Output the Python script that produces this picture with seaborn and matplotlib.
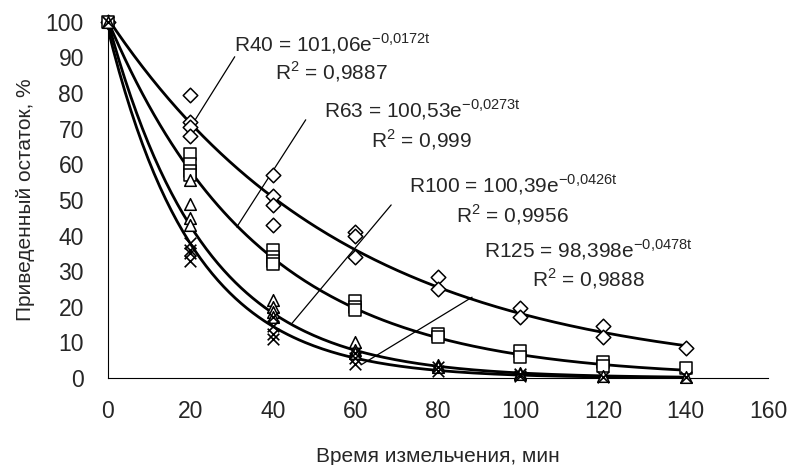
import numpy as np
import pandas as pd
import seaborn as sns
import matplotlib.pyplot as plt

# measured points (t, residue %) for each grinding series
t_r40 = [0, 20, 20, 20, 20, 40, 40, 40, 40, 60, 60, 60, 80, 80, 100, 100, 120, 120, 140]
y_r40 = [100, 79.5, 72, 70.5, 68, 57, 51, 48.5, 43, 41, 40, 34, 28.5, 25, 19.8, 17, 14.5, 11.5, 8.3]

t_r63 = [0, 20, 20, 20, 20, 40, 40, 40, 40, 60, 60, 60, 80, 80, 100, 100, 120, 120, 140]
y_r63 = [100, 63, 60, 58, 57, 36, 34, 33, 32, 21.5, 20, 19, 12.5, 11.5, 7.5, 6, 4.5, 3.5, 2.8]

t_r100 = [0, 20, 20, 20, 20, 40, 40, 40, 40, 60, 60, 60, 80, 80, 100, 100, 120, 140]
y_r100 = [100, 55.5, 49, 45, 43, 22, 20, 18.5, 17, 10, 8, 7, 3.8, 3, 1.5, 1, 0.5, 0.3]

t_r125 = [0, 20, 20, 20, 20, 40, 40, 40, 40, 60, 60, 60, 80, 80, 100, 100, 120, 140]
y_r125 = [100, 38, 36, 35, 33, 17, 14.5, 12.5, 11, 7, 5.5, 4, 3, 2, 1, 0.5, 0.3, 0.2]

series = ["R40", "R63", "R100", "R125"]
coef_a = [101.06, 100.53, 100.39, 98.398]
coef_b = [0.0172, 0.0273, 0.0426, 0.0478]
r2 = ["0,9887", "0,999", "0,9956", "0,9888"]
a_txt = ["101,06", "100,53", "100,39", "98,398"]
b_txt = ["0{,}0172", "0{,}0273", "0{,}0426", "0{,}0478"]

pts = pd.concat([
    pd.DataFrame({"t": t, "y": y, "s": s})
    for t, y, s in [(t_r40, y_r40, "R40"), (t_r63, y_r63, "R63"),
                    (t_r100, y_r100, "R100"), (t_r125, y_r125, "R125")]
])

tt = np.linspace(0, 140, 200)
fit = pd.concat([
    pd.DataFrame({"t": tt, "y": a * np.exp(-b * tt), "s": s})
    for s, a, b in zip(series, coef_a, coef_b)
])

sns.set_theme(style="white")
plt.rcParams['font.family'] = ['Liberation Sans', 'DejaVu Sans']
plt.rcParams['mathtext.fontset'] = 'custom'
plt.rcParams['mathtext.rm'] = 'Liberation Sans'

fig = plt.figure(figsize=(7.91, 4.65), dpi=100)
ax = fig.add_axes([0.136, 0.187, 0.835, 0.766])

sns.lineplot(data=fit, x="t", y="y", units="s", estimator=None, color="black",
             lw=2, ax=ax, legend=False)

markers = {"R40": "D", "R63": "s", "R100": "^", "R125": "X"}
for s, m in markers.items():
    d = pts[pts.s == s]
    if m == "X":
        ax.scatter(d.t, d.y, marker="x", s=70, color="black", lw=1.2, zorder=3, clip_on=False)
    else:
        ax.scatter(d.t, d.y, marker=m, s=70 if m != "D" else 55, facecolor="white",
                   edgecolor="black", lw=1.1, zorder=3, clip_on=False)

# equation labels with leader lines
text_pos = [(30.6, 94), (52.4, 75.3), (73.1, 54.2), (91.3, 36)]
r2_pos = [(40.5, 86), (63.8, 66.9), (84.5, 45.8), (102.7, 28)]
leaders = [((30.8, 90.2), (20.9, 71.9)), ((48, 72.5), (31.3, 42.4)),
           ((68.7, 48.6), (44.7, 15.4)), ((88.3, 22.7), (61.4, 3.7))]
for i, s in enumerate(series):
    ax.text(*text_pos[i], f"{s} = {a_txt[i]}e$^{{\\mathregular{{-{b_txt[i]}t}}}}$",
            fontsize=15, va="center", ha="left")
    ax.text(*r2_pos[i], f"R$^{{\\mathregular{{2}}}}$ = {r2[i]}", fontsize=15, va="center", ha="left")
    (x0, y0), (x1, y1) = leaders[i]
    ax.plot([x0, x1], [y0, y1], color="black", lw=0.9)

ax.set_xlim(0, 160)
ax.set_ylim(0, 100)
ax.set_xticks(range(0, 161, 20))
ax.set_yticks(range(0, 101, 10))
ax.tick_params(axis="both", labelsize=16.5, length=6, width=0.8, color="black", direction="out")
ax.tick_params(axis="y", pad=11)
ax.tick_params(axis="x", direction="inout", length=10, pad=11)
for side in ["top", "right"]:
    ax.spines[side].set_visible(False)
for side in ["left", "bottom"]:
    ax.spines[side].set_color("black")
    ax.spines[side].set_linewidth(0.8)
ax.set_xlabel("Время измельчения, мин", fontsize=15, labelpad=17)
ax.set_ylabel("Приведенный остаток, %", fontsize=15, labelpad=8)

fig.savefig("out.png", dpi=100)
